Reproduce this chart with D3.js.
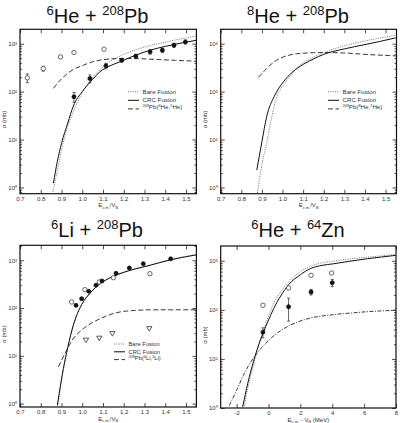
<!DOCTYPE html>
<html><head><meta charset="utf-8">
<script src="https://cdn.jsdelivr.net/npm/d3@7"></script>
<style>
body{margin:0;background:#fff;}
svg{display:block;font-family:"Liberation Sans",Arial,sans-serif;}
</style></head>
<body><svg id="c" width="400" height="423"></svg>
<script>
// ---------- DATA ----------
// Panel A: 6He + 208Pb
const aOpenE = [0.735, 0.812, 0.895, 0.96, 1.105];
const aOpenS = [194, 303, 531, 656, 768];
const aOpenErr = [40, 35, 30, 25, 30];
const aFillE = [0.96, 1.037, 1.114, 1.19, 1.258, 1.327, 1.386, 1.442, 1.497];
const aFillS = [78, 188, 345, 453, 550, 676, 732, 930, 1090];
const aFillErr = [18, 35, 45, 40, 50, 70, 70, 90, 100];
const aCrcE = [0.861, 0.88, 0.9, 0.93, 0.957, 1.0, 1.05, 1.085, 1.13, 1.182, 1.25, 1.327, 1.4, 1.47, 1.55];
const aCrcS = [1.22, 3.5, 8.3, 22, 50, 100, 180, 259, 340, 419, 560, 732, 880, 1020, 1180];
const aBareE = [0.856, 0.88, 0.9, 0.925, 0.95, 0.975, 1.0, 1.05, 1.1, 1.2, 1.3, 1.4, 1.47, 1.55];
const aBareS = [0.73, 2.2, 6, 16, 32, 58, 95, 195, 330, 600, 850, 1080, 1250, 1440];
const aTrE = [0.861, 0.9, 0.925, 0.96, 1.005, 1.05, 1.085, 1.13, 1.182, 1.25, 1.35, 1.45, 1.55];
const aTrS = [117, 185, 232, 295, 355, 420, 453, 480, 490, 490, 470, 450, 431];

// Panel B: 8He + 208Pb
const bCrcE = [0.875, 0.9, 0.923, 0.96, 1.004, 1.05, 1.1, 1.15, 1.2, 1.3, 1.4, 1.47, 1.55];
const bCrcS = [2.3, 9, 30, 80, 160, 260, 370, 480, 600, 780, 960, 1110, 1330];
const bBareE = [0.878, 0.9, 0.923, 0.948, 0.972, 1.0, 1.04, 1.085, 1.15, 1.2, 1.25, 1.35, 1.45, 1.55];
const bBareS = [0.76, 3, 8.3, 30, 78, 130, 220, 355, 520, 650, 780, 1020, 1260, 1500];
const bTrE = [0.883, 0.923, 0.96, 1.004, 1.05, 1.085, 1.15, 1.2, 1.3, 1.4, 1.55];
const bTrS = [198, 303, 420, 531, 600, 625, 650, 656, 640, 600, 557];

// Panel C: 6Li + 208Pb
const cOpenE = [0.949, 1.013, 1.082, 1.15, 1.326];
const cOpenS = [134, 243, 352, 432, 525];
const cFillE = [0.97, 0.997, 1.031, 1.066, 1.095, 1.163, 1.227, 1.294, 1.426];
const cFillS = [114, 157, 224, 300, 369, 535, 690, 850, 1075];
const cTriE = [1.018, 1.082, 1.145, 1.323];
const cTriS = [21.8, 24, 30, 38];
const cCrcE = [0.88, 0.909, 0.93, 0.957, 0.997, 1.04, 1.086, 1.13, 1.182, 1.25, 1.326, 1.42, 1.55];
const cCrcS = [0.93, 5.4, 15, 44, 118, 210, 325, 420, 525, 650, 785, 1010, 1300];
const cBareE = [0.882, 0.909, 0.93, 0.957, 0.997, 1.04, 1.086, 1.13, 1.182, 1.25, 1.326, 1.42, 1.55];
const cBareS = [0.88, 5.2, 14.5, 43, 117, 212, 330, 425, 532, 660, 795, 1020, 1320];
const cTrE = [0.885, 0.92, 0.957, 1.005, 1.05, 1.086, 1.13, 1.182, 1.25, 1.326, 1.45, 1.55];
const cTrS = [5.9, 12, 23, 37, 50, 60, 72, 83, 89, 92, 92, 92];

// Panel D: 6He + 64Zn
const dOpenE = [-0.35, 1.26, 2.67, 3.96];
const dOpenS = [124, 279, 505, 563];
const dFillE = [-0.35, 1.26, 2.67, 4.0];
const dFillS = [35, 116, 231, 357];
const dFillErr = [8, 57, 30, 60];
const dCrcE = [-1.62, -1.3, -0.95, -0.6, -0.32, 0, 0.32, 0.8, 1.26, 2.0, 2.62, 3.3, 4.1, 5.0, 6.2, 8];
const dCrcS = [1.05, 3.2, 8.7, 20, 35, 62, 105, 200, 325, 520, 690, 800, 870, 970, 1100, 1290];
const dBareE = [-1.55, -1.2, -0.9, -0.6, -0.3, 0, 0.32, 0.8, 1.26, 2.0, 2.62, 3.3, 4.1, 5.0, 6.2, 8];
const dBareS = [1.0, 3.5, 8.5, 20, 40, 75, 133, 240, 369, 600, 771, 900, 990, 1080, 1180, 1350];
const dBreakE = [-2.46, -2.0, -1.58, -1.1, -0.74, -0.11, 0.94, 1.8, 2.62, 3.8, 5.14, 6.5, 8];
const dBreakS = [1.13, 2.3, 4.6, 8.8, 12.8, 22, 41, 56, 68, 78, 86, 93, 98];

const xTicksRatio = [0.7, 0.8, 0.9, 1.0, 1.1, 1.2, 1.3, 1.4, 1.5];
const xTicksMeV = [-2, 0, 2, 4, 6, 8];
const yMajor = [1, 10, 100, 1000];

// ---------- DRAW ----------
const svg = d3.select("#c");
const zip = (a, b) => a.map((v, i) => [v, b[i]]);
const sup = {"0":"⁰","1":"¹","2":"²","3":"³"};

function panel(o) {
  const g = svg.append("g");
  const x = d3.scaleLinear().domain(o.xd).range([o.l, o.r]);
  const y = d3.scaleLog().domain(o.yd).range([o.b, o.t]);
  const clipId = "clip" + o.id;
  g.append("clipPath").attr("id", clipId).append("rect")
    .attr("x", o.l).attr("y", o.t).attr("width", o.r - o.l).attr("height", o.b - o.t);

  const minors = [];
  for (let e = -1; e <= 3; e++) for (let m = 2; m <= 9; m++) {
    const v = m * Math.pow(10, e);
    if (v > o.yd[0] && v < o.yd[1]) minors.push(v);
  }
  const styleAxis = sel => {
    sel.select(".domain").remove();
    sel.selectAll("line").attr("stroke", "#222").attr("stroke-width", 0.8);
    sel.selectAll("text").attr("font-size", 6).attr("fill", "#333");
  };
  g.append("g").attr("transform", `translate(${o.l},0)`)
    .call(d3.axisLeft(y).tickValues(yMajor).tickSize(-4).tickPadding(3)
      .tickFormat(d => "10" + sup[String(Math.round(Math.log10(d)))]))
    .call(styleAxis);
  g.append("g").attr("transform", `translate(${o.l},0)`)
    .call(d3.axisLeft(y).tickValues(minors).tickSize(-2).tickFormat(""))
    .call(styleAxis);
  g.append("g").attr("transform", `translate(${o.r},0)`)
    .call(d3.axisRight(y).tickValues(yMajor).tickSize(-4).tickFormat(""))
    .call(styleAxis);
  g.append("g").attr("transform", `translate(${o.r},0)`)
    .call(d3.axisRight(y).tickValues(minors).tickSize(-2).tickFormat(""))
    .call(styleAxis);
  g.append("g").attr("transform", `translate(0,${o.b})`)
    .call(d3.axisBottom(x).tickValues(o.xt).tickSize(-4).tickPadding(3)
      .tickFormat(d => o.xfmt(d)))
    .call(styleAxis);
  g.append("g").attr("transform", `translate(0,${o.t})`)
    .call(d3.axisTop(x).tickValues(o.xt).tickSize(-4).tickFormat(""))
    .call(styleAxis);

  g.append("rect").attr("x", o.l).attr("y", o.t).attr("width", o.r - o.l).attr("height", o.b - o.t)
    .attr("fill", "none").attr("stroke", "#111").attr("stroke-width", 1.2);

  const line = d3.line().x(d => x(d[0])).y(d => y(d[1])).curve(d3.curveMonotoneX);
  const cg = g.append("g").attr("clip-path", `url(#${clipId})`);
  o.curves.forEach(c => {
    cg.append("path").attr("d", line(zip(c.e, c.s))).attr("fill", "none")
      .attr("stroke", c.color).attr("stroke-width", c.w).attr("stroke-dasharray", c.dash);
  });

  const pg = g.append("g");
  (o.points || []).forEach(p => {
    p.e.forEach((e, i) => {
      const cx = x(e), cy = y(p.s[i]);
      if (p.err && p.err[i]) {
        const y1 = y(p.s[i] + p.err[i]), y0 = y(Math.max(p.s[i] - p.err[i], 0.01));
        pg.append("line").attr("x1", cx).attr("x2", cx).attr("y1", y1).attr("y2", y0)
          .attr("stroke", "#222").attr("stroke-width", 0.7);
        [y1, y0].forEach(yy => pg.append("line").attr("x1", cx - 1.5).attr("x2", cx + 1.5)
          .attr("y1", yy).attr("y2", yy).attr("stroke", "#222").attr("stroke-width", 0.7));
      }
      if (p.type === "tri") {
        pg.append("path").attr("d", d3.symbol(d3.symbolTriangle, 12)())
          .attr("transform", `translate(${cx},${cy}) rotate(180)`)
          .attr("fill", "#fff").attr("stroke", "#333").attr("stroke-width", 0.8);
      } else {
        pg.append("circle").attr("cx", cx).attr("cy", cy).attr("r", p.type === "open" ? 2.2 : 2)
          .attr("fill", p.type === "open" ? "#fff" : "#111")
          .attr("stroke", p.type === "open" ? "#444" : "#111").attr("stroke-width", 0.8);
      }
    });
  });

  if (o.legend) {
    const L = o.legend;
    L.items.forEach((it, i) => {
      const yy = L.y + i * L.dy;
      g.append("line").attr("x1", L.x).attr("x2", L.x + 11).attr("y1", yy).attr("y2", yy)
        .attr("stroke", it.color).attr("stroke-width", it.w).attr("stroke-dasharray", it.dash);
      const t = g.append("text").attr("x", L.x + 14.5).attr("y", yy).attr("dy", "0.35em")
        .attr("font-size", L.fs).attr("fill", "#333");
      it.parts.forEach(pt => {
        const ts = t.append("tspan").text(pt[0]);
        if (pt[1]) ts.attr("font-size", 3.8).attr("dy", "-2");
        else if (pt[2]) ts.attr("dy", "2");
      });
    });
  }

  const yl = g.append("text").attr("transform", `translate(${o.l - 14},${(o.t + o.b) / 2 + 8}) rotate(-90)`)
    .attr("text-anchor", "middle").attr("font-size", 6).attr("fill", "#333");
  yl.append("tspan").text("σ (mb)");
  const xl = g.append("text").attr("x", (o.l + o.r) / 2).attr("y", o.b + 13.5)
    .attr("text-anchor", "middle").attr("font-size", 6).attr("fill", "#333");
  o.xlab.forEach(pt => {
    const ts = xl.append("tspan").text(pt[0]);
    if (pt[1] === "sub") ts.attr("font-size", 4).attr("dy", 1.5);
    else if (pt[1] === "up") ts.attr("dy", -1.5);
  });

  const tt = g.append("text").attr("x", o.tx).attr("y", o.ty).attr("text-anchor", "middle")
    .attr("font-size", 20).attr("fill", "#111");
  o.title.forEach(pt => {
    const ts = tt.append("tspan").text(pt[0]);
    if (pt[1]) ts.attr("font-size", 13).attr("dy", -8);
    else ts.attr("dy", pt[2] || 0);
  });
}

const ratioFmt = d => d3.format(".1f")(d);
const xlabRatio = [["E"], ["c.m.", "sub"], ["/V", "up"], ["B", "sub"]];
const xlabMeV = [["E"], ["c.m.", "sub"], [" - V", "up"], ["B", "sub"], [" (MeV)", "up"]];
const dotStyle = {color: "#666", w: 0.9, dash: "1,1.3"};
const solidStyle = {color: "#111", w: 1, dash: null};
const dashStyle = {color: "#222", w: 0.9, dash: "5,2.5"};
const ddStyle = {color: "#222", w: 0.9, dash: "4,1.5,1,1.5"};

function legendItems(third) {
  return [
    Object.assign({parts: [["Bare Fusion"]]}, dotStyle),
    Object.assign({parts: [["CRC Fusion"]]}, solidStyle),
    Object.assign({parts: third}, dashStyle)
  ];
}

panel({
  id: "a", l: 20, r: 196.4, t: 29.3, b: 193.7, xd: [0.7, 1.55], yd: [0.74, 2000],
  xt: xTicksRatio, xfmt: ratioFmt, xlab: xlabRatio,
  tx: 97.5, ty: 23, title: [["6", true], ["He + ", false, 8], ["208", true], ["Pb", false, 8]],
  curves: [
    Object.assign({e: aBareE, s: aBareS}, dotStyle),
    Object.assign({e: aCrcE, s: aCrcS}, solidStyle),
    Object.assign({e: aTrE, s: aTrS}, dashStyle)
  ],
  points: [
    {type: "open", e: aOpenE, s: aOpenS, err: aOpenErr},
    {type: "fill", e: aFillE, s: aFillS, err: aFillErr}
  ],
  legend: {x: 128, y: 91.7, dy: 8.6, fs: 6.2, items: legendItems([["208", true], ["Pb(", false, 2], ["6", true], ["He,", false, 2], ["5", true], ["He)", false, 2]])}
});

panel({
  id: "b", l: 220.7, r: 396.5, t: 29.3, b: 193.7, xd: [0.7, 1.553], yd: [0.74, 2000],
  xt: xTicksRatio, xfmt: ratioFmt, xlab: xlabRatio,
  tx: 298, ty: 23, title: [["8", true], ["He + ", false, 8], ["208", true], ["Pb", false, 8]],
  curves: [
    Object.assign({e: bBareE, s: bBareS}, dotStyle),
    Object.assign({e: bCrcE, s: bCrcS}, solidStyle),
    Object.assign({e: bTrE, s: bTrS}, dashStyle)
  ],
  points: [],
  legend: {x: 328, y: 91.7, dy: 8.6, fs: 6.2, items: legendItems([["208", true], ["Pb(", false, 2], ["8", true], ["He,", false, 2], ["7", true], ["He)", false, 2]])}
});

panel({
  id: "c", l: 20, r: 196.4, t: 245.3, b: 407, xd: [0.7, 1.55], yd: [0.85, 2060],
  xt: xTicksRatio, xfmt: ratioFmt, xlab: xlabRatio,
  tx: 97, ty: 237, title: [["6", true], ["Li + ", false, 8], ["208", true], ["Pb", false, 8]],
  curves: [
    Object.assign({e: cBareE, s: cBareS}, dotStyle),
    Object.assign({e: cCrcE, s: cCrcS}, solidStyle),
    Object.assign({e: cTrE, s: cTrS}, dashStyle)
  ],
  points: [
    {type: "open", e: cOpenE, s: cOpenS},
    {type: "fill", e: cFillE, s: cFillS},
    {type: "tri", e: cTriE, s: cTriS}
  ],
  legend: {x: 114, y: 344, dy: 7.8, fs: 5.8, items: legendItems([["208", true], ["Pb(", false, 2], ["6", true], ["Li,", false, 2], ["5", true], ["Li)", false, 2]])}
});

panel({
  id: "d", l: 220.7, r: 396, t: 246, b: 408, xd: [-3, 8], yd: [1, 2000],
  xt: xTicksMeV, xfmt: d => String(d), xlab: xlabMeV,
  tx: 298, ty: 237, title: [["6", true], ["He + ", false, 8], ["64", true], ["Zn", false, 8]],
  curves: [
    Object.assign({e: dBareE, s: dBareS}, dotStyle),
    Object.assign({e: dCrcE, s: dCrcS}, solidStyle),
    Object.assign({e: dBreakE, s: dBreakS}, ddStyle)
  ],
  points: [
    {type: "open", e: dOpenE, s: dOpenS},
    {type: "fill", e: dFillE, s: dFillS, err: dFillErr}
  ]
});
</script></body></html>
